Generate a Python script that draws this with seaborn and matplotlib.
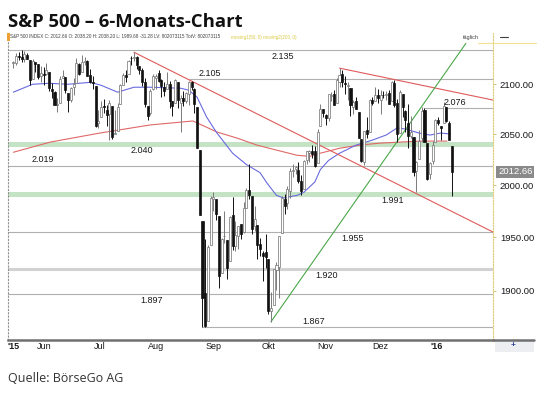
import numpy as np
import pandas as pd
import matplotlib
matplotlib.use("Agg")
import matplotlib.pyplot as plt
import seaborn as sns
from matplotlib.ticker import FixedLocator, NullLocator, FixedFormatter
from matplotlib.lines import Line2D
from matplotlib.patches import Rectangle

# ---------------- data ----------------
month_days = {
    "2015-05": [15, 18, 19, 20, 21, 22, 26, 27, 28, 29],
    "2015-06": [1, 2, 3, 4, 5, 8, 9, 10, 11, 12, 15, 16, 17, 18, 19, 22, 23, 24, 25, 26, 29, 30],
    "2015-07": [1, 2, 6, 7, 8, 9, 10, 13, 14, 15, 16, 17, 20, 21, 22, 23, 24, 27, 28, 29, 30, 31],
    "2015-08": [3, 4, 5, 6, 7, 10, 11, 12, 13, 14, 17, 18, 19, 20, 21, 24, 25, 26, 27, 28, 31],
    "2015-09": [1, 2, 3, 4, 8, 9, 10, 11, 14, 15, 16, 17, 18, 21, 22, 23, 24, 25, 28, 29, 30],
    "2015-10": [1, 2, 5, 6, 7, 8, 9, 12, 13, 14, 15, 16, 19, 20, 21, 22, 23, 26, 27, 28, 29, 30],
    "2015-11": [2, 3, 4, 5, 6, 9, 10, 11, 12, 13, 16, 17, 18, 19, 20, 23, 24, 25, 27, 30],
    "2015-12": [1, 2, 3, 4, 7, 8, 9, 10, 11, 14, 15, 16, 17, 18, 21, 22, 23, 24, 28, 29, 30, 31],
    "2016-01": [4],
}
dates = [f"{m}-{d:02d}" for m, ds in month_days.items() for d in ds]

opens = [
    2122.07, 2121.30, 2129.45, 2127.79, 2125.55, 2130.36, 2125.34, 2105.13, 2122.27, 2120.66,
    2108.64, 2110.41, 2110.64, 2112.35, 2095.09, 2092.34, 2079.07, 2081.12, 2106.24, 2107.43, 2091.34,
    2084.26, 2097.40, 2101.58, 2121.06, 2112.50, 2123.16, 2123.65, 2109.96, 2102.62, 2098.63, 2061.19,
    2067.00, 2078.03, 2073.95, 2069.52, 2077.66, 2049.73, 2052.74, 2080.03, 2099.72, 2109.00, 2110.55,
    2126.80, 2126.85, 2127.55, 2118.21, 2114.16, 2102.24, 2078.19, 2070.75, 2094.70, 2106.78, 2111.60,
    2104.49, 2097.68, 2095.27, 2100.75, 2082.61, 2080.98, 2102.66, 2081.10, 2086.19, 2083.15, 2089.70,
    2101.99, 2095.69, 2076.61, 2034.08, 1965.15, 1898.08, 1872.75, 1942.77, 1986.06, 1986.73,
    1970.09, 1916.52, 1950.79, 1947.76, 1927.30, 1971.45, 1941.59, 1951.45, 1963.06, 1955.10, 1978.02,
    1995.33, 1989.66, 1960.84, 1961.39, 1943.24, 1934.81, 1935.93, 1929.18, 1881.90, 1887.14,
    1919.65, 1921.77, 1954.33, 1986.63, 1982.34, 1994.01, 2013.73, 2015.65, 2015.00, 2003.66, 1996.47,
    2024.37, 2031.73, 2033.13, 2033.47, 2021.88, 2058.19, 2075.08, 2068.75, 2066.48, 2088.35, 2090.00,
    2080.76, 2102.63, 2110.60, 2101.68, 2098.60, 2096.56, 2077.19, 2083.41, 2072.29, 2044.64, 2022.08,
    2053.67, 2051.99, 2083.70, 2082.82, 2089.41, 2084.42, 2089.30, 2088.82, 2090.95,
    2082.93, 2101.71, 2080.71, 2051.24, 2090.42, 2073.39, 2061.17, 2047.93, 2047.27, 2013.37, 2025.55,
    2046.50, 2073.76, 2040.81, 2010.27, 2023.15, 2042.20, 2063.52, 2057.77, 2060.54, 2077.34, 2060.59,
    2038.20,
]
highs = [
    2123.89, 2131.78, 2133.02, 2134.72, 2134.28, 2132.15, 2125.34, 2126.22, 2122.27, 2120.66,
    2119.15, 2117.59, 2121.92, 2112.89, 2100.99, 2093.01, 2085.62, 2108.50, 2115.02, 2107.43, 2091.34,
    2097.40, 2106.79, 2126.65, 2121.64, 2129.87, 2128.03, 2125.10, 2116.04, 2108.92, 2098.63, 2074.28,
    2082.78, 2085.06, 2078.61, 2083.74, 2077.66, 2074.28, 2081.31, 2099.88, 2111.98, 2114.14, 2124.42,
    2128.91, 2132.82, 2128.49, 2118.51, 2116.87, 2106.01, 2078.19, 2095.60, 2110.60, 2110.48, 2114.24,
    2105.70, 2102.51, 2112.66, 2103.32, 2082.61, 2105.35, 2102.66, 2089.06, 2092.93, 2092.45, 2102.87,
    2103.47, 2096.17, 2076.61, 2034.08, 1965.15, 1948.04, 1943.09, 1989.60, 1993.48, 1986.73,
    1970.09, 1948.91, 1975.01, 1947.76, 1970.42, 1988.63, 1965.29, 1961.05, 1963.06, 1983.19, 1997.26,
    2020.86, 1989.66, 1979.64, 1961.39, 1949.52, 1937.17, 1952.89, 1929.18, 1899.48, 1920.53,
    1927.21, 1951.36, 1989.17, 1991.62, 1999.31, 2016.50, 2020.13, 2018.66, 2022.34, 2009.56, 2024.15,
    2033.54, 2034.45, 2039.12, 2037.97, 2055.20, 2079.74, 2075.14, 2070.37, 2090.35, 2092.52, 2094.32,
    2106.20, 2116.48, 2114.59, 2108.78, 2101.91, 2096.56, 2083.67, 2086.94, 2072.29, 2044.64, 2053.22,
    2066.69, 2085.31, 2086.74, 2097.06, 2095.61, 2094.12, 2093.00, 2093.29, 2093.81,
    2103.37, 2104.27, 2085.00, 2093.84, 2090.42, 2073.85, 2080.33, 2067.65, 2047.27, 2022.92, 2053.87,
    2076.72, 2076.37, 2040.81, 2022.90, 2042.74, 2064.73, 2067.36, 2057.77, 2081.56, 2077.34, 2062.54,
    2038.20,
]
lows = [
    2116.81, 2120.01, 2124.50, 2122.59, 2122.95, 2126.06, 2099.18, 2105.13, 2112.86, 2104.89,
    2102.54, 2099.14, 2109.61, 2093.23, 2085.67, 2079.11, 2072.14, 2081.12, 2106.24, 2091.33, 2072.49,
    2082.10, 2088.86, 2101.58, 2109.45, 2112.50, 2119.89, 2108.58, 2101.78, 2095.38, 2056.64, 2056.32,
    2067.00, 2071.02, 2058.40, 2044.02, 2044.66, 2049.73, 2052.74, 2080.03, 2099.72, 2102.49, 2110.55,
    2119.88, 2123.66, 2115.40, 2110.00, 2098.63, 2077.09, 2063.52, 2069.09, 2094.08, 2094.97, 2102.07,
    2087.31, 2088.60, 2095.27, 2075.53, 2067.91, 2080.98, 2076.49, 2052.09, 2078.26, 2080.61, 2079.30,
    2094.14, 2070.53, 2035.73, 1970.89, 1867.01, 1867.08, 1872.75, 1942.77, 1975.19, 1965.98,
    1903.07, 1916.52, 1944.72, 1911.21, 1927.30, 1937.88, 1937.19, 1939.19, 1948.27, 1954.30, 1977.93,
    1986.73, 1953.45, 1955.80, 1929.22, 1932.57, 1908.92, 1921.50, 1879.21, 1871.91, 1887.14,
    1900.70, 1893.70, 1954.33, 1971.99, 1976.44, 1987.53, 2007.61, 2010.55, 2001.78, 1990.73, 1996.47,
    2020.46, 2022.31, 2026.61, 2017.22, 2021.88, 2058.19, 2066.53, 2058.84, 2063.11, 2082.63, 2079.34,
    2080.76, 2097.51, 2096.98, 2090.41, 2083.74, 2068.24, 2069.91, 2074.85, 2045.66, 2022.02, 2019.94,
    2045.90, 2051.99, 2078.76, 2082.82, 2081.39, 2070.29, 2086.30, 2084.13, 2080.41,
    2082.93, 2077.11, 2042.35, 2051.24, 2066.78, 2052.32, 2036.53, 2045.67, 2008.80, 1993.26, 2025.55,
    2042.43, 2041.66, 2005.33, 2005.93, 2020.49, 2042.20, 2058.73, 2044.20, 2060.54, 2061.97, 2043.62,
    1989.68,
]
closes = [
    2122.73, 2129.20, 2127.83, 2125.85, 2130.82, 2126.06, 2104.20, 2123.48, 2120.79, 2107.39,
    2111.73, 2109.60, 2114.07, 2095.84, 2092.83, 2079.28, 2080.15, 2105.20, 2108.86, 2094.11, 2084.43,
    2096.29, 2100.44, 2121.24, 2109.99, 2122.85, 2124.20, 2108.58, 2102.31, 2101.49, 2057.64, 2063.11,
    2077.42, 2076.78, 2068.76, 2081.34, 2046.68, 2051.31, 2076.62, 2099.60, 2108.95, 2107.40, 2124.29,
    2126.64, 2128.28, 2119.21, 2114.15, 2102.15, 2079.65, 2067.64, 2093.25, 2108.57, 2108.63, 2103.84,
    2098.04, 2093.32, 2099.84, 2083.56, 2077.57, 2104.18, 2084.07, 2086.05, 2083.39, 2091.54, 2102.44,
    2096.92, 2079.61, 2035.73, 1970.89, 1893.21, 1867.61, 1940.51, 1987.66, 1988.87, 1972.18,
    1913.85, 1948.86, 1951.13, 1921.22, 1969.41, 1942.04, 1952.29, 1961.05, 1953.03, 1978.09, 1995.31,
    1990.20, 1958.03, 1966.97, 1942.74, 1938.76, 1932.24, 1931.34, 1881.77, 1884.09, 1920.03,
    1923.82, 1951.36, 1987.05, 1979.92, 1995.83, 2013.43, 2014.89, 2017.46, 2003.69, 1994.24, 2023.86,
    2033.11, 2033.66, 2030.77, 2018.94, 2052.51, 2075.15, 2071.18, 2065.89, 2090.35, 2089.41, 2079.36,
    2104.05, 2109.79, 2102.31, 2099.93, 2099.20, 2078.58, 2081.72, 2075.00, 2045.97, 2023.04, 2053.19,
    2050.44, 2083.58, 2081.24, 2089.17, 2086.59, 2089.14, 2088.87, 2090.11, 2080.41,
    2102.63, 2079.51, 2049.62, 2091.69, 2077.07, 2063.59, 2047.62, 2052.23, 2012.37, 2021.94, 2043.41,
    2073.07, 2041.89, 2005.55, 2021.15, 2038.97, 2064.29, 2060.99, 2056.50, 2078.36, 2063.36, 2043.94,
    2012.66,
]

# moving averages (trading-day index, value)
ma50_idx = [0, 7, 13, 20, 28, 32, 38, 44, 50, 61, 64, 67, 70.5, 74, 80, 85, 90, 92.5, 96, 98.5,
            103.5, 106, 110, 112, 115, 119, 125, 131, 136, 140, 143, 148, 152, 156, 159.5]
ma50_val = [2092, 2100, 2101, 2100, 2102, 2099, 2092, 2097, 2097, 2096, 2094, 2087, 2067, 2052, 2031,
            2020, 2012, 2002, 1990, 1987.5, 1990, 1993, 2003, 2015, 2024, 2031, 2039, 2044, 2049, 2056,
            2055, 2051, 2049, 2051, 2050]
ma200_idx = [0, 13.4, 31.6, 49.8, 65.5, 74.3, 81.6, 88.9, 96.2, 103.5, 108.2, 111.9, 119.1, 126.4,
             133.7, 141, 148.4, 158.2]
ma200_val = [2032, 2042, 2051, 2059, 2063, 2052, 2046, 2039, 2034, 2029, 2028, 2031, 2036, 2039,
             2041, 2042, 2043, 2043]

# trend lines (trading-day index, value)
red_trend1_idx, red_trend1_val = [44, 175], [2132.82, 1955]
red_trend2_idx, red_trend2_val = [119, 175], [2116.48, 2084]
green_trend_idx, green_trend_val = [94, 165.1], [1871.91, 2142]

# horizontal levels
full_levels = [2135, 2019, 1955, 1897]
green_levels = [2040, 1991]
thick_level = 1920
partial_levels = [2105, 2076, 1867]
partial_start = [64, 150, 69]

level_labels = ["2.135", "2.105", "2.076", "2.040", "2.019", "1.991", "1.955", "1.920", "1.897", "1.867"]
level_values = [2135, 2105, 2076, 2040, 2019, 1991, 1955, 1920, 1897, 1867]
level_label_idx = [98.4, 71.7, 161.1, 46.9, 10.8, 138.5, 123.9, 114.4, 50.6, 109.7]
level_label_side = [-1, 1, 1, -1, 1, -1, -1, -1, -1, 1]

month_labels = ["'15", "Jun", "Jul", "Aug", "Sep", "Okt", "Nov", "Dez", "'16"]
month_dates = ["2015-05-15", "2015-06-01", "2015-07-01", "2015-08-01", "2015-09-01",
               "2015-10-01", "2015-11-01", "2015-12-01", "2016-01-01"]
price_ticks = [1900, 1950, 2000, 2050, 2100]
last_close = closes[-1]

# ---------------- figure ----------------
sns.set_style("white")
plt.rcParams["font.family"] = ["Liberation Sans", "DejaVu Sans"]

W, H = 540, 394
fig = plt.figure(figsize=(W / 100, H / 100), dpi=100)
ax = fig.add_axes([8 / W, (H - 340) / H, 485 / W, 307 / H])
ax.set_yscale("log")

pos = np.arange(len(dates))
o, h, l, c = map(np.array, (opens, highs, lows, closes))
up = c >= o
dn = ~up

# levels
for v in full_levels:
    ax.axhline(v, color="#b0b0b0", lw=0.8, zorder=1)
for v in green_levels:
    ax.axhline(v, color="#c4e2c4", lw=3.6, zorder=1)
ax.axhline(thick_level, color="#d2d2d2", lw=2.2, zorder=1)
for v, s in zip(partial_levels, partial_start):
    ax.hlines(v, s, 200, color="#b0b0b0", lw=0.8, zorder=1)

for txt, v, xi, side in zip(level_labels, level_values, level_label_idx, level_label_side):
    ax.annotate(txt, xy=(xi, v), xytext=(0, 6 * side), textcoords="offset pixels",
                ha="center", va="center", fontsize=6.5, color="#1a1a1a", zorder=6)

# moving averages
sns.lineplot(x=ma200_idx, y=ma200_val, ax=ax, color="#e06868", lw=0.8, zorder=2,
             estimator=None, sort=False)
sns.lineplot(x=ma50_idx, y=ma50_val, ax=ax, color="#6a6ae0", lw=0.8, zorder=2,
             estimator=None, sort=False)

# trend lines
ax.plot(red_trend1_idx, red_trend1_val, color="#e05a5a", lw=0.8, zorder=2)
ax.plot(red_trend2_idx, red_trend2_val, color="#e05a5a", lw=0.8, zorder=2)
ax.plot(green_trend_idx, green_trend_val, color="#4aa84a", lw=0.8, zorder=2, clip_on=False)

# candles
ax.vlines(pos[up], l[up], h[up], color="#7a7a7a", lw=0.7, zorder=3)
ax.vlines(pos[dn], l[dn], h[dn], color="#111111", lw=0.7, zorder=3)
ax.bar(pos[up], np.maximum(np.abs(c - o)[up], 0.4), bottom=np.minimum(o, c)[up], width=0.75,
       color="white", edgecolor="#707070", lw=0.5, zorder=4)
ax.bar(pos[dn], np.maximum(np.abs(c - o)[dn], 0.4), bottom=np.minimum(o, c)[dn], width=0.75,
       color="#111111", edgecolor="#111111", lw=0.5, zorder=4)

ax.set_xlim(-1.97, 175.0)
ax.set_ylim(1855.4, 2152.8)

# y axis on the right
ax.yaxis.tick_right()
ax.yaxis.set_major_locator(FixedLocator(price_ticks))
ax.yaxis.set_major_formatter(FixedFormatter([f"{v:.2f}" for v in price_ticks]))
ax.yaxis.set_minor_locator(NullLocator())
ax.tick_params(axis="y", which="major", length=2, width=0.6, color="#c8b860",
               labelsize=6.8, pad=3, labelcolor="#1a1a1a", right=True, left=False)

# x axis: month labels on calendar scale
start = pd.Timestamp(dates[0])
xt = [(pd.Timestamp(d) - start).days * 0.669 for d in month_dates]
ax.set_xticks(xt)
ax.set_xticklabels(month_labels)
ax.tick_params(axis="x", length=0, labelsize=6.5, pad=1.5, labelcolor="#1a1a1a")
for lab in ax.get_xticklabels():
    if lab.get_text().startswith("'"):
        lab.set_fontweight("bold")

ax.spines["top"].set_visible(False)
ax.spines["left"].set_color("#909090")
ax.spines["left"].set_linestyle((0, (1, 2)))
ax.spines["left"].set_linewidth(0.8)
ax.spines["right"].set_color("#e0cc70")
ax.spines["right"].set_linestyle((0, (1, 1.5)))
ax.spines["right"].set_linewidth(0.8)
ax.spines["bottom"].set_color("#707070")
ax.spines["bottom"].set_linewidth(1.8)

# last price box
ax.annotate(f"{last_close:.2f}", xy=(1.0, last_close), xycoords=("axes fraction", "data"),
            xytext=(5, 0), textcoords="offset pixels", ha="left", va="center",
            fontsize=6.8, color="white",
            bbox=dict(boxstyle="square,pad=0.18", fc="#8a8a8a", ec="none"), zorder=7)

# header strip
fig.text(10 / W, 1 - 37 / H,
         "S&P 500 INDEX C: 2012.66 O: 2038.20 H: 2038.20 L: 1989.68 -31.28 LV: 802073115 TotV: 802073115",
         fontsize=3.35, color="#404040", va="center", ha="left")
fig.text(231 / W, 1 - 37 / H, "moving1(50, 0) moving2(200, 0)", fontsize=3.35,
         color="#d8c840", va="center", ha="left")
fig.add_artist(Rectangle((7 / W, 1 - 41 / H), 3 / W, 8 / H, transform=fig.transFigure,
                         color="#f0a030", lw=0))
fig.text(463 / W, 1 - 37 / H, "täglich", fontsize=4, color="#404040", va="center", ha="left")
fig.add_artist(Line2D([500 / W, 508 / W], [1 - 37 / H, 1 - 37 / H], transform=fig.transFigure,
                      color="#404040", lw=0.8))
fig.add_artist(Line2D([478 / W, 536 / W], [1 - 43 / H, 1 - 43 / H], transform=fig.transFigure,
                      color="#f0e090", lw=0.8))

# bottom-right button
fig.add_artist(Line2D([493 / W, 534 / W], [1 - 340 / H, 1 - 340 / H], transform=fig.transFigure,
                      color="#707070", lw=1.8))
fig.add_artist(Rectangle((495 / W, 1 - 352 / H), 39 / W, 11 / H, transform=fig.transFigure,
                         color="#eceef2", lw=0))
fig.text(513 / W, 1 - 346 / H, "+", fontsize=6, color="#2a40a0", va="center", ha="center",
         fontweight="bold")

# titles
fig.text(8 / W, 1 - 27 / H, "S&P 500 – 6-Monats-Chart", fontsize=13.3, fontweight="bold",
         family=["Open Sans", "DejaVu Sans"], color="#111111", va="baseline", ha="left")
fig.text(8 / W, 1 - 382 / H, "Quelle: BörseGo AG", fontsize=9,
         family=["Open Sans", "DejaVu Sans"], color="#333333", va="baseline", ha="left")

fig.savefig("out.png", dpi=100)
